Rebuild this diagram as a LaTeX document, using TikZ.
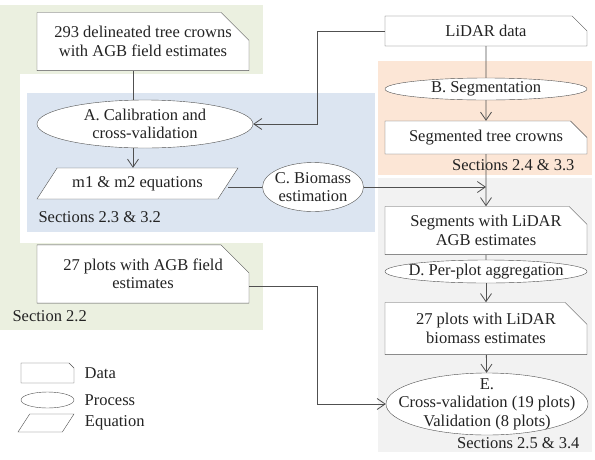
\documentclass[tikz,border=0pt]{standalone}
\usepackage{fontspec}
\setmainfont{Liberation Serif}
\usepackage{tikz}
\usetikzlibrary{shapes.geometric, shapes.misc, arrows.meta, positioning}

\definecolor{sagebg}{RGB}{235,240,224}
\definecolor{bluebg}{RGB}{220,229,241}
\definecolor{peachbg}{RGB}{252,230,214}
\definecolor{greybg}{RGB}{242,242,242}
\definecolor{linegrey}{RGB}{80,80,80}
\definecolor{textgrey}{RGB}{35,35,35}

\tikzset{
  datanode/.style={chamfered rectangle, chamfered rectangle corners=north east,
    chamfered rectangle xsep=9pt, chamfered rectangle ysep=9pt,
    draw=linegrey, fill=white, text=textgrey, align=center, inner sep=0pt},
  process/.style={ellipse, draw=linegrey, fill=white, text=textgrey,
    align=center, inner sep=0pt},
  equation/.style={trapezium, trapezium left angle=57, trapezium right angle=123,
    trapezium stretches body, draw=linegrey, fill=white, text=textgrey,
    inner xsep=0pt, text height=11pt, text depth=4pt},
  section/.style={text=textgrey},
  line/.style={draw=linegrey, line width=0.8pt},
  arrow/.style={line, -{Straight Barb[length=8pt,width=11pt]}},
}

\begin{document}
\begin{tikzpicture}[x=1pt, y=-1pt, font=\fontsize{16.5}{18.5}\selectfont]
\useasboundingbox (0,0) rectangle (595,459);

% section backgrounds
\fill[sagebg] (0,5) rectangle (263,330);
\fill[white] (20,74) rectangle (263,243);
\fill[bluebg] (27,93) rectangle (375,232);
\fill[peachbg] (378,61) rectangle (592,175);
\fill[greybg] (378,178) rectangle (592,452);

% field data and calibration
\node(crowns)[datanode, minimum width=212, minimum height=49,
  chamfered rectangle xsep=14pt, chamfered rectangle ysep=14pt]
  at (143,41.5){293 delineated tree crowns\\with AGB field estimates};
\node(calib)[process, minimum width=216, minimum height=48] at (145,124)
  {A. Calibration and\\cross-validation};
\node(eqs)[equation, minimum width=201, inner ysep=8pt] at (137.5,183.5)
  {m1 \& m2 equations};
\node(biomass)[process, minimum width=101, minimum height=49,
  inner xsep=-6pt] at (313,187){C. Biomass\\estimation};
\node(plots)[datanode, minimum width=212, minimum height=50,
  chamfered rectangle xsep=14pt, chamfered rectangle ysep=14pt]
  at (143,274){27 plots with AGB field\\estimates};

% LiDAR chain
\node(lidar)[datanode, minimum width=202, minimum height=30] at (486,31){LiDAR data};
\node(segm)[process, minimum width=202, minimum height=22] at (486,89){B. Segmentation};
\node(segcrowns)[datanode, minimum width=202, minimum height=29] at (486,137.5)
  {Segmented tree crowns};
\node(segments)[datanode, minimum width=202, minimum height=33] at (486,230.5)
  {Segments with LiDAR\\AGB estimates};
\node(aggr)[process, minimum width=202, minimum height=23,
  inner xsep=-25pt, inner ysep=-2pt] at (486,271.5){D. Per-plot aggregation};
\node(lidarplots)[datanode, minimum width=202, minimum height=43,
  chamfered rectangle xsep=11pt, chamfered rectangle ysep=11pt]
  at (486,328.5){27 plots with LiDAR\\biomass estimates};
\node(valid)[process, minimum width=202, minimum height=62,
  inner xsep=-40pt, inner ysep=-12pt] at (487,404)
  {E.\\Cross-validation (19 plots)\\Validation (8 plots)};

% section labels
\node(secA)[section, anchor=west] at (35,217){Sections 2.3 \& 3.2};
\node(secF)[section, anchor=west] at (9,316){Section 2.2};
\node(secB)[section, anchor=east] at (578,165){Sections 2.4 \& 3.3};
\node(secE)[section, anchor=east] at (583,443){Sections 2.5 \& 3.4};

% legend
\node(legData)[datanode, minimum width=53, minimum height=20,
  chamfered rectangle xsep=5pt, chamfered rectangle ysep=5pt] at (47.5,373){\strut};
\node(legProc)[process, minimum width=53, minimum height=16] at (47.5,400){};
\node(legEq)[equation, minimum width=56, text height=0pt, text depth=0pt,
  inner ysep=9pt] at (46,423){};
\node[section, right=7pt of legData]{Data};
\node[section, right=7pt of legProc]{Process};
\node[section, right=13pt of legEq]{Equation};

% connectors
\coordinate(jointA) at (317,124);
\coordinate(jointE) at (317,404);
\draw[line]([xshift=-10pt]crowns.south) -- ([xshift=-10pt]crowns.south |- calib.north);
\draw[arrow]([xshift=-12pt]calib.south) -- ([xshift=-12pt]calib.south |- eqs.north);
\draw[line](biomass.west) -- (biomass.west -| eqs.east);
\draw[arrow](lidar.west) -| (jointA) -- (calib.east);
\draw[line](lidar) -- (segm);
\draw[arrow](segm) -- (segcrowns);
\draw[arrow](segcrowns) -- (segments);
\draw[arrow](biomass.east) -- (biomass.east -| segments.north);
\draw[line](segments) -- (aggr);
\draw[arrow](aggr) -- (lidarplots);
\draw[arrow](lidarplots) -- (valid);
\draw[arrow]([yshift=-12pt]plots.east) -| (jointE) -- (valid.west);

\end{tikzpicture}
\end{document}
